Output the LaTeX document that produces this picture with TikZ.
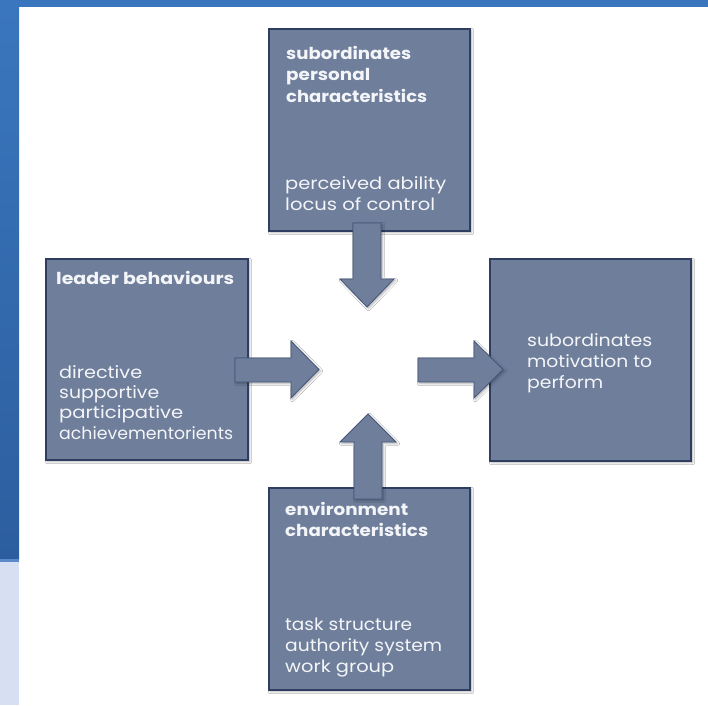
\documentclass[tikz,border=0pt]{standalone}
\usepackage{fontspec}
\usepackage{graphicx}
\setmainfont{Poppins}
\usetikzlibrary{shadows.blur}
\definecolor{bandblue}{HTML}{3A76BD}
\definecolor{stripdark}{HTML}{2C5E9F}
\definecolor{stripline}{HTML}{5B89C9}
\definecolor{palebg}{HTML}{D6E0F2}
\definecolor{boxfill}{HTML}{6E7E9B}
\definecolor{boxline}{HTML}{2F3E60}
\definecolor{arrowline}{HTML}{46557A}
\definecolor{txt}{HTML}{F4F5F8}
\newcommand{\fw}[2]{\resizebox{#1pt}{\height}{#2}}
\tikzset{
  box/.style={draw=boxline, line width=2pt, fill=boxfill, inner sep=0pt,
    blur shadow={shadow xshift=1.5pt, shadow yshift=-1.5pt, shadow blur steps=6, shadow opacity=30}},
  blockarrow/.style={fill=boxfill, draw=arrowline, line width=0.8pt, line join=miter,
    blur shadow={shadow xshift=1.5pt, shadow yshift=-1.5pt, shadow blur steps=6, shadow opacity=30}},
  ttl/.style={anchor=base west, inner sep=0pt, align=left, text=txt,
    font=\fontsize{16.5}{21.5}\selectfont\bfseries},
  bdy/.style={anchor=base west, inner sep=0pt, align=left, text=txt,
    font=\fontsize{17}{21}\selectfont}
}
\begin{document}
\begin{tikzpicture}[x=1pt,y=-1pt]
\useasboundingbox (0,0) rectangle (708,705);
\fill[white] (0,0) rectangle (708,705);
\fill[bandblue] (0,0) rectangle (708,7);
\shade[top color=bandblue, bottom color=stripdark] (0,7) rectangle (19,559);
\fill[stripline] (0,559) rectangle (19,562);
\fill[palebg] (0,562) rectangle (19,705);

% boxes
\node[box, minimum width=201pt, minimum height=202pt] (top) at (369.5,130) {};
\node[box, minimum width=202pt, minimum height=201pt] (left) at (147,359.5) {};
\node[box, minimum width=201pt, minimum height=202pt] (right) at (590.5,360) {};
\node[box, minimum width=201pt, minimum height=202pt] (bottom) at (369.5,589) {};

% texts (anchor = baseline of the last line)
\node[ttl] (topT) at (286,102) {\fw{125}{subordinates}\\\fw{84}{personal}\\\fw{141}{characteristics}};
\node[bdy] (topB) at (285,210) {\fw{161}{perceived ability}\\\fw{150}{locus of control}};
\node[ttl] (leftT) at (56,284) {\fw{178}{leader behaviours}};
\node[bdy, font=\fontsize{17}{20.3}\selectfont] (leftB) at (59,439) {\fw{83}{directive}\\\fw{100}{supportive}\\\fw{124}{participative}\\\fw{174}{achievementorients}};
\node[bdy] (rightB) at (527,388) {\fw{125}{subordinates}\\\fw{125}{motivation to}\\\fw{76}{perform}};
\node[ttl, font=\fontsize{16.5}{21}\selectfont\bfseries] (botT) at (285,536) {\fw{123}{environment}\\\fw{143}{characteristics}};
\node[bdy] (botB) at (285,672) {\fw{127}{task structure}\\\fw{157}{authority system}\\\fw{109}{work group}};

% block arrows
\path[blockarrow] (353,223) -- (381,223) -- (381,279) -- (394,279) -- (367,307) -- (340,279) -- (353,279) -- cycle;
\path[blockarrow] (235,358) -- (291,358) -- (291,341) -- (319,369.5) -- (291,398) -- (291,382) -- (235,382) -- cycle;
\path[blockarrow] (418,358) -- (474,358) -- (474,341) -- (503,369.5) -- (474,398) -- (474,382) -- (418,382) -- cycle;
\path[blockarrow] (354,499) -- (354,442) -- (340,442) -- (368,414) -- (396,442) -- (382,442) -- (382,499) -- cycle;
\end{tikzpicture}
\end{document}
